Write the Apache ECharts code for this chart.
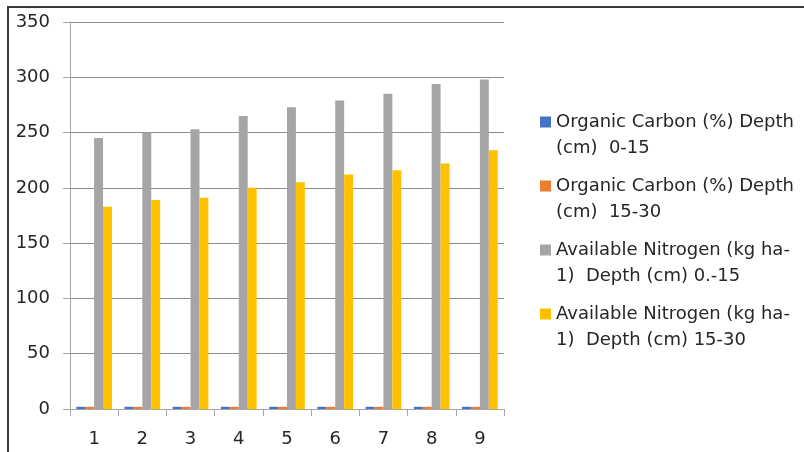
<!DOCTYPE html>
<html>
<head>
<meta charset="utf-8">
<title>Organic Carbon and Available Nitrogen by Depth</title>
<script src="https://cdn.jsdelivr.net/npm/echarts@6/dist/echarts.min.js"></script>
<style>
  html, body { margin: 0; padding: 0; background: #ffffff; }
  #chart { width: 804px; height: 452px; }
</style>
</head>
<body>
<div id="chart"></div>
<script>
// Sample numbers along the x axis
const categories = ['1', '2', '3', '4', '5', '6', '7', '8', '9'];

// Series names (two-line legend labels)
const seriesNames = [
  'Organic Carbon (%) Depth\n(cm)  0-15',
  'Organic Carbon (%) Depth\n(cm)  15-30',
  'Available Nitrogen (kg ha-\n1)  Depth (cm) 0.-15',
  'Available Nitrogen (kg ha-\n1)  Depth (cm) 15-30'
];

// Values per series
const carbon0to15 = [2, 2, 2, 2, 2, 2, 2, 2, 2];
const carbon15to30 = [2, 2, 2, 2, 2, 2, 2, 2, 2];
const nitrogen0to15 = [245, 250, 253, 265, 273, 279, 285, 294, 298];
const nitrogen15to30 = [183, 189, 191, 200, 205, 212, 216, 222, 234];

// Y axis range
const yMin = 0;
const yMax = 350;
const yStep = 50;

const colors = ['#4472C4', '#ED7D31', '#A5A5A5', '#FFC000'];
const font = 'DejaVu Sans';

const chart = echarts.init(document.getElementById('chart'), null, { renderer: 'canvas' });

const seriesData = [carbon0to15, carbon15to30, nitrogen0to15, nitrogen15to30];

chart.setOption({
  animation: false,
  backgroundColor: '#ffffff',
  color: colors,
  grid: { left: 70, right: 300, top: 22, bottom: 43, containLabel: false },
  legend: {
    orient: 'vertical',
    left: 540,
    top: 83,
    padding: 0,
    icon: 'rect',
    itemWidth: 11,
    itemHeight: 11,
    itemGap: -14,
    selectedMode: false,
    data: seriesNames,
    // leading blank line keeps the swatch level with the first text line
    formatter: name => '\n' + name,
    textStyle: {
      fontFamily: font,
      fontSize: 18,
      color: '#262626',
      lineHeight: 26
    }
  },
  xAxis: {
    type: 'category',
    data: categories,
    axisLine: { lineStyle: { color: '#a6a6a6', width: 1 } },
    axisTick: { show: true, length: 7, lineStyle: { color: '#a6a6a6' } },
    axisLabel: { fontFamily: font, fontSize: 18, color: '#262626', margin: 21 },
    splitLine: { show: false }
  },
  yAxis: {
    type: 'value',
    min: yMin,
    max: yMax,
    interval: yStep,
    axisLine: { show: true, lineStyle: { color: '#a6a6a6', width: 1 } },
    axisTick: { show: true, length: 7, lineStyle: { color: '#a6a6a6' } },
    axisLabel: { fontFamily: font, fontSize: 18, color: '#262626', margin: 20 },
    splitLine: { show: true, lineStyle: { color: '#8c8c8c', width: 1 } }
  },
  series: seriesNames.map((name, i) => ({
    name: name,
    type: 'bar',
    data: seriesData[i],
    barGap: '0%',
    barCategoryGap: '26%',
    itemStyle: { color: colors[i] }
  })),
  graphic: [
    {
      type: 'polyline',
      silent: true,
      shape: { points: [[8, 452], [8, 7], [804, 7]] },
      style: { stroke: '#3a3a3a', lineWidth: 2, fill: null }
    }
  ]
});
</script>
</body>
</html>
